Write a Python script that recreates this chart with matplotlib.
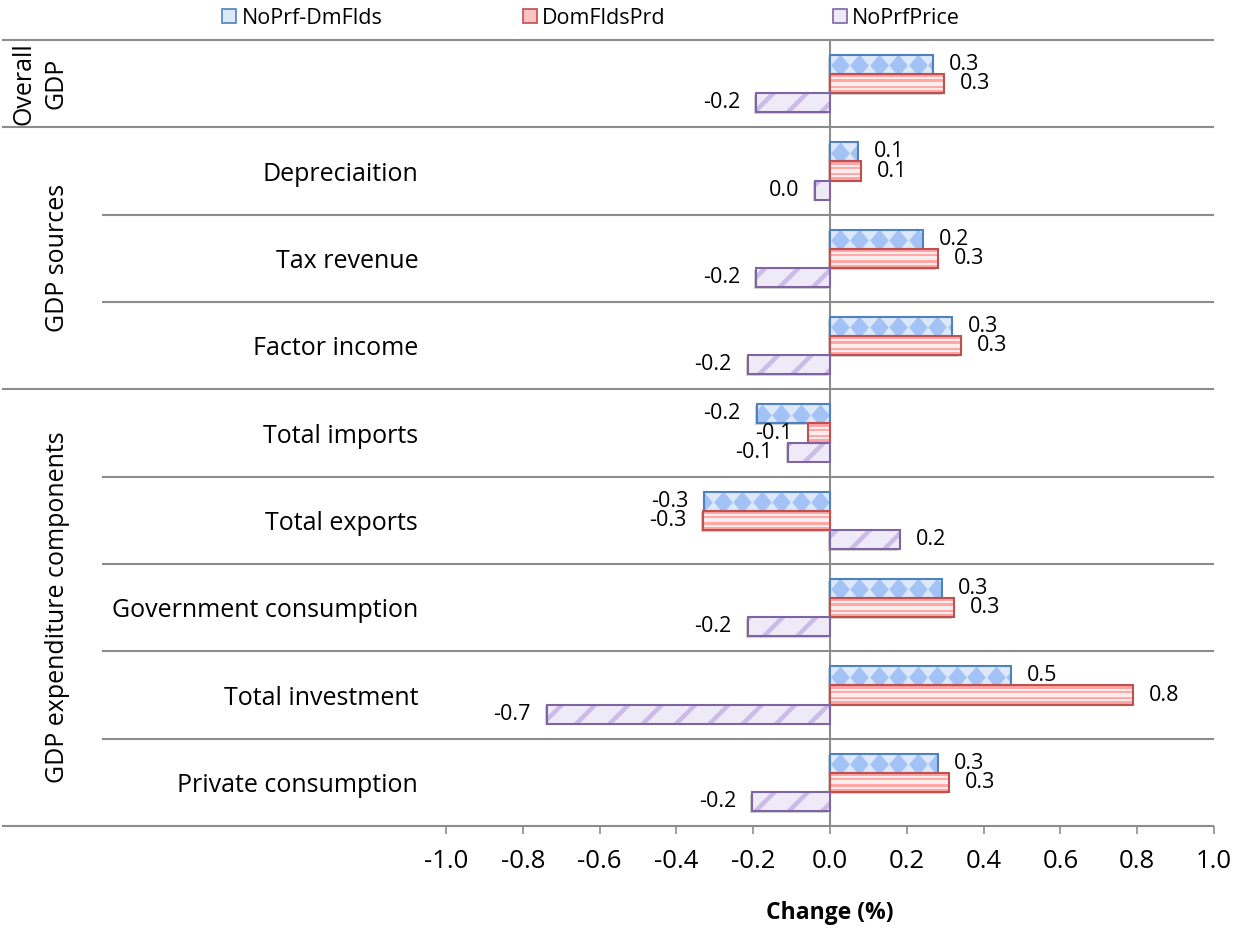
import matplotlib
matplotlib.use("Agg")
import matplotlib.pyplot as plt
import matplotlib.patheffects as pe
import numpy as np
from matplotlib.patches import Patch
from matplotlib.path import Path
from matplotlib.transforms import blended_transform_factory

plt.rcParams['font.family'] = ['Open Sans', 'DejaVu Sans']
plt.rcParams['hatch.linewidth'] = 3.2

# ---- data -------------------------------------------------------------
categories = ["", "Depreciaition", "Tax revenue", "Factor income",
              "Total imports", "Total exports", "Government consumption",
              "Total investment", "Private consumption"]
group_labels = ["Overall\nGDP", "GDP sources", "GDP expenditure components"]
group_sizes = [1, 3, 5]
series_names = ["NoPrf-DmFlds", "DomFldsPrd", "NoPrfPrice"]
noprf_dmflds = [0.268, 0.073, 0.242, 0.318, -0.191, -0.327, 0.292, 0.471, 0.281]
domfldsprd = [0.296, 0.081, 0.281, 0.341, -0.056, -0.332, 0.323, 0.790, 0.310]
noprfprice = [-0.193, -0.039, -0.193, -0.214, -0.109, 0.182, -0.214, -0.738, -0.203]
x_ticks = [-1.0, -0.8, -0.6, -0.4, -0.2, 0.0, 0.2, 0.4, 0.6, 0.8, 1.0]

# ---- styling ----------------------------------------------------------
W, H = 1239, 930
GRID = '#8c8c8c'
blue_edge, blue_fill, blue_dia = '#4f81bd', '#dde8fb', '#a3c2f5'
red_edge, red_fill = '#c0504d', '#ffa3a3'
pur_edge, pur_fill, pur_hatch = '#8064a2', '#efeaf7', '#cbbbe9'
shadow = [pe.SimplePatchShadow(offset=(-1.2, -1.2), shadow_rgbFace='#808080',
                               alpha=0.35), pe.Normal()]

fig = plt.figure(figsize=(W / 100, H / 100), dpi=100)
ax_left, ax_right, ax_top, ax_bottom = 446, 1214, 40, 826
ax = fig.add_axes([ax_left / W, 1 - ax_bottom / H,
                   (ax_right - ax_left) / W, (ax_bottom - ax_top) / H])

y = np.arange(len(categories))
bar_h = 0.22
offsets = [-0.22, 0.0, 0.22]
xlim = (-1.0, 1.0)
px_per_unit = (ax_right - ax_left) / (xlim[1] - xlim[0])

# NoPrf-DmFlds: light blue with a row of diamonds
yb = y + offsets[0]
fill_b = ax.barh(yb, noprf_dmflds, height=bar_h, color=blue_fill,
                 linewidth=0, zorder=2)
diamond = Path([(0, 1), (0.85, 0), (0, -1), (-0.85, 0), (0, 1)],
               [Path.MOVETO, Path.LINETO, Path.LINETO, Path.LINETO, Path.CLOSEPOLY])
step = 19.5 / px_per_unit
for patch, v, yc in zip(fill_b.patches, noprf_dmflds, yb):
    patch.set_path_effects(shadow)
    n = int(np.ceil(abs(v) / step)) + 1
    xs = np.sign(v) * (np.arange(n) + 0.5) * step
    sc = ax.scatter(xs, np.full(n, yc + 0.01), marker=diamond, s=250,
                    color=blue_dia, linewidths=0, zorder=3)
    sc.set_clip_path(patch)
ax.barh(yb, noprf_dmflds, height=bar_h, fill=False, edgecolor=blue_edge,
        linewidth=1.5, zorder=4)

# DomFldsPrd: pink with white horizontal stripes
yr = y + offsets[1]
fill_r = ax.barh(yr, domfldsprd, height=bar_h, color=red_fill, linewidth=0, zorder=2)
for patch in fill_r.patches:
    patch.set_path_effects(shadow)
for v, yc in zip(domfldsprd, yr):
    for frac, lw in zip([-0.27, 0.0, 0.27], [1.5, 3.0, 1.5]):
        ax.plot([0, v], [yc + frac * bar_h, yc + frac * bar_h], color='white',
                lw=lw, alpha=0.8, solid_capstyle='butt', zorder=3)
ax.barh(yr, domfldsprd, height=bar_h, fill=False, edgecolor=red_edge,
        linewidth=1.5, zorder=4)

# NoPrfPrice: lavender with diagonal hatching
yp = y + offsets[2]
fill_p = ax.barh(yp, noprfprice, height=bar_h, color=pur_fill, linewidth=0, zorder=2)
for patch in fill_p.patches:
    patch.set_path_effects(shadow)
ax.barh(yp, noprfprice, height=bar_h, facecolor='none', edgecolor=pur_hatch,
        hatch='/', linewidth=0, zorder=3)
ax.barh(yp, noprfprice, height=bar_h, fill=False, edgecolor=pur_edge,
        linewidth=1.5, zorder=4)

# value labels
for vals, ys in [(noprf_dmflds, yb), (domfldsprd, yr), (noprfprice, yp)]:
    for v, yc in zip(vals, ys):
        txt = f"{round(v, 1) + 0.0:.1f}"
        off = 11.5 if v >= 0 else -11.5
        ax.annotate(txt, xy=(v, yc), xytext=(off, 0), textcoords='offset points',
                    ha='left' if v >= 0 else 'right', va='center',
                    fontsize=15.5, color='black', zorder=6)

# zero line
ax.axvline(0, color=GRID, lw=1.5, zorder=1.5)

# category and group separators
trans = blended_transform_factory(ax.transAxes, ax.transData)
group_bounds = list(np.cumsum([0] + group_sizes) - 0.5)
cat_x0 = (102 - ax_left) / (ax_right - ax_left)
grp_x0 = (2 - ax_left) / (ax_right - ax_left)
for b in np.arange(-0.5, len(categories), 1.0):
    x0 = grp_x0 if any(abs(b - g) < 1e-9 for g in group_bounds) else cat_x0
    ax.plot([x0, 1.0], [b, b], color=GRID, lw=1.5, transform=trans,
            clip_on=False, zorder=1, solid_capstyle='butt')

# group labels
gtrans = blended_transform_factory(fig.transFigure, ax.transData)
for lab, lo, hi in zip(group_labels, group_bounds[:-1], group_bounds[1:]):
    ax.text(40 / W if '\n' in lab else 58 / W, (lo + hi) / 2, lab,
            transform=gtrans, rotation=90, ha='center', va='center',
            fontsize=18, linespacing=1.35, multialignment='center')

# axes formatting
ax.set_xlim(*xlim)
ax.set_ylim(len(categories) - 0.5, -0.5)
ax.set_xticks(x_ticks)
ax.set_xticklabels([f"{t:.1f}" for t in x_ticks])
ax.set_yticks(y)
ax.set_yticklabels(categories)
ax.tick_params(axis='x', length=5.5, width=1.2, color=GRID, labelsize=18.5,
               pad=11, labelcolor='black')
ax.tick_params(axis='y', length=0, pad=20, labelsize=18, labelcolor='black')
for s in ax.spines.values():
    s.set_visible(False)

fig.text(830 / W, 1 - 913 / H, "Change (%)", ha='center', va='center',
         fontsize=16.5, fontweight='bold')

# legend entries, one per series along the top
handles = [Patch(facecolor=blue_fill, edgecolor=blue_edge, linewidth=1.2),
           Patch(facecolor='#ffc2c2', edgecolor=red_edge, linewidth=1.2),
           Patch(facecolor=pur_fill, edgecolor=pur_edge, linewidth=1.2)]
for h, name, xpx in zip(handles, series_names, [222, 523, 833]):
    fig.legend([h], [name], loc='center left',
               bbox_to_anchor=(xpx / W, 1 - 18 / H), frameon=False,
               borderpad=0, borderaxespad=0, handlelength=0.65,
               handleheight=0.65, handletextpad=0.25, fontsize=15.5)

fig.savefig('out.png', dpi=100)
